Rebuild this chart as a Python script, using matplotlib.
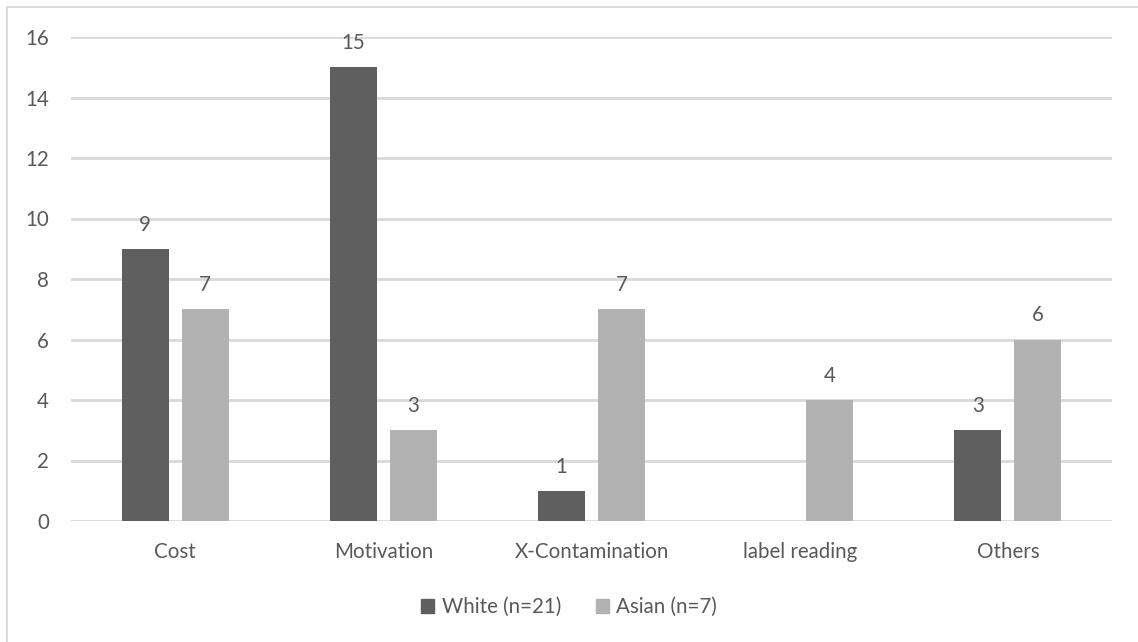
import matplotlib
matplotlib.use("Agg")
import matplotlib.pyplot as plt
import numpy as np
from matplotlib.lines import Line2D

categories = ["Cost", "Motivation", "X-Contamination", "label reading", "Others"]
white_vals = [9, 15, 1, None, 3]
asian_vals = [7, 3, 7, 4, 6]
series_names = ["White (n=21)", "Asian (n=7)"]
y_ticks = [0, 2, 4, 6, 8, 10, 12, 14, 16]

W, H, DPI = 1138, 642, 100
TEXT = "#595959"
DARK = "#5f5f5f"
LIGHT = "#b2b2b2"
GRID = "#d9d9d9"
FS = 14.8

plt.rcParams["font.family"] = ["Lato", "DejaVu Sans"]

fig = plt.figure(figsize=(W / DPI, H / DPI), dpi=DPI)
fig.patch.set_facecolor("white")

# plot area in pixel coordinates
left, right, top, bottom = 71, 1112, 37, 521
ax = fig.add_axes([left / W, 1 - bottom / H, (right - left) / W, (bottom - top) / H])

x = np.arange(len(categories))
bw = 0.226
off = 0.144

wv = [np.nan if v is None else v for v in white_vals]
b1 = ax.bar(x - off, wv, bw, color=DARK, zorder=3, label=series_names[0])
b2 = ax.bar(x + off, asian_vals, bw, color=LIGHT, zorder=3, label=series_names[1])

for bars, vals in ((b1, white_vals), (b2, asian_vals)):
    for rect, v in zip(bars, vals):
        if v is None:
            continue
        ax.annotate(str(v), (rect.get_x() + rect.get_width() / 2, v),
                    xytext=(0, 13), textcoords="offset points",
                    ha="center", va="baseline", fontsize=FS, color=TEXT)

ax.set_xlim(-0.5, len(categories) - 0.5)
ax.set_ylim(0, 16)
ax.set_yticks(y_ticks)
ax.set_xticks(x)
ax.set_xticklabels(categories)
ax.yaxis.grid(True, color=GRID, linewidth=2.0, zorder=0)
ax.set_axisbelow(True)
for s in ax.spines.values():
    s.set_visible(False)
ax.tick_params(axis="both", length=0, labelsize=FS, labelcolor=TEXT)
ax.tick_params(axis="y", pad=16)
ax.tick_params(axis="x", pad=15)

handles = [plt.Rectangle((0, 0), 1, 1, color=DARK), plt.Rectangle((0, 0), 1, 1, color=LIGHT)]
fig.legend(handles, series_names, loc="center", bbox_to_anchor=(0.5, 1 - 607 / H),
           ncol=2, frameon=False, fontsize=FS, labelcolor=TEXT,
           handlelength=0.65, handleheight=0.65, handletextpad=0.35, columnspacing=1.7)

# chart frame (top and left edges visible)
fig.add_artist(Line2D([7 / W, 1], [1 - 7 / H, 1 - 7 / H], color=GRID, linewidth=1.3,
                      transform=fig.transFigure))
fig.add_artist(Line2D([7 / W, 7 / W], [0, 1 - 7 / H], color=GRID, linewidth=1.3,
                      transform=fig.transFigure))

fig.savefig("out.png", dpi=DPI)
